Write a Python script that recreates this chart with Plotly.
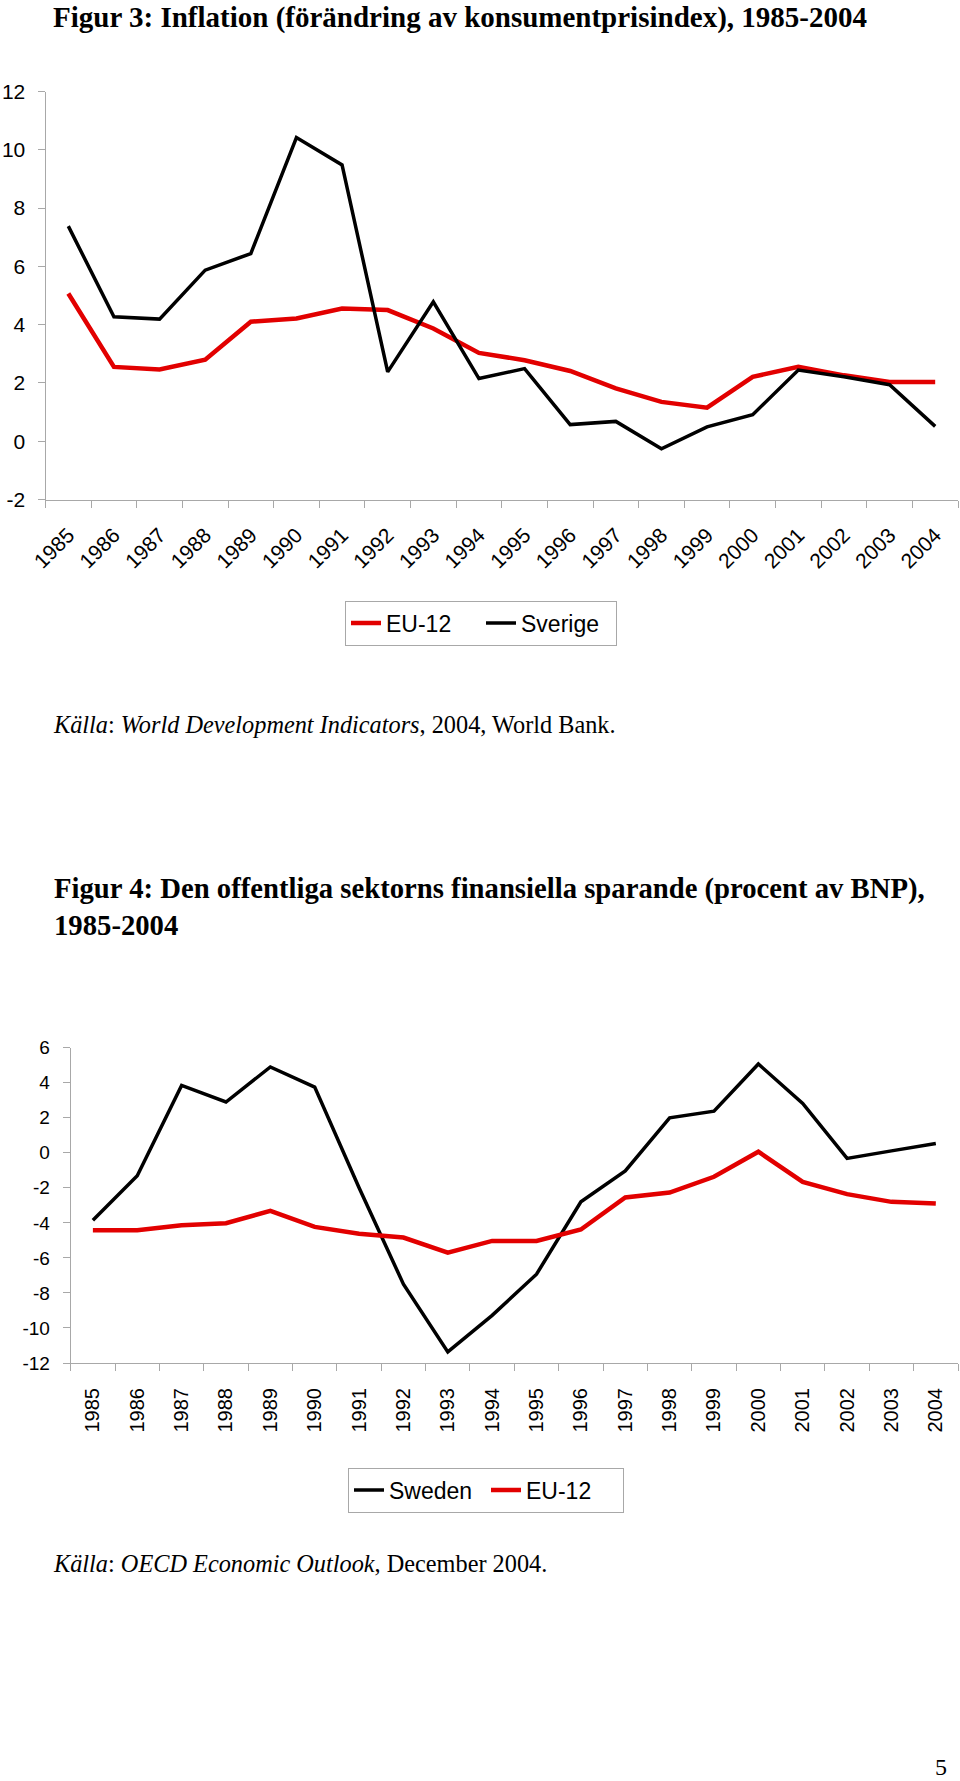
import plotly.graph_objects as go

# ---------------- data ----------------
years = [str(y) for y in range(1985, 2005)]

# Figur 3: inflation (%)
infl_eu12 = [5.07, 2.55, 2.46, 2.80, 4.10, 4.21, 4.55, 4.50, 3.87, 3.03,
             2.78, 2.41, 1.81, 1.35, 1.15, 2.21, 2.55, 2.26, 2.03, 2.03]
infl_sverige = [7.38, 4.27, 4.19, 5.87, 6.44, 10.42, 9.48, 2.38, 4.78, 2.15,
                2.49, 0.57, 0.68, -0.26, 0.49, 0.91, 2.44, 2.21, 1.94, 0.51]

# Figur 4: public sector financial saving (% of GDP)
saving_sweden = [-3.85, -1.31, 3.85, 2.90, 4.90, 3.75, -2.00, -7.50, -11.37, -9.28,
                 -6.93, -2.80, -1.03, 2.00, 2.38, 5.07, 2.82, -0.32, 0.11, 0.53]
saving_eu12 = [-4.42, -4.42, -4.13, -4.02, -3.31, -4.23, -4.62, -4.84, -5.70, -5.03,
               -5.03, -4.38, -2.55, -2.27, -1.37, 0.06, -1.66, -2.36, -2.80, -2.90]

infl_ticks = [-2, 0, 2, 4, 6, 8, 10, 12]
saving_ticks = [-12, -10, -8, -6, -4, -2, 0, 2, 4, 6]

# ---------------- styling ----------------
W, H = 960, 1781
RED = "rgb(226,0,0)"
BLACK = "black"
AXC = "#a8a8a8"
SANS = "Liberation Sans, Arial, sans-serif"
SERIF = "Liberation Serif, Times New Roman, serif"


def fx(p):
    return p / W


def fy(p):
    return 1 - p / H


fig = go.Figure()
fig.add_trace(go.Scatter(x=years, y=infl_eu12, name="EU-12", mode="lines",
                         line=dict(color=RED, width=4.5), xaxis="x", yaxis="y",
                         legend="legend"))
fig.add_trace(go.Scatter(x=years, y=infl_sverige, name="Sverige", mode="lines",
                         line=dict(color=BLACK, width=3.5), xaxis="x", yaxis="y",
                         legend="legend"))
fig.add_trace(go.Scatter(x=years, y=saving_sweden, name="Sweden", mode="lines",
                         line=dict(color=BLACK, width=3.5), xaxis="x2", yaxis="y2",
                         legend="legend2"))
fig.add_trace(go.Scatter(x=years, y=saving_eu12, name="EU-12", mode="lines",
                         line=dict(color=RED, width=4.5), xaxis="x2", yaxis="y2",
                         legend="legend2"))

common_x = dict(type="category", range=[-0.5, 19.5], tickson="boundaries",
                ticks="outside", ticklen=7, tickcolor=AXC, showline=True,
                linecolor=AXC, linewidth=1, showgrid=False, zeroline=False,
                fixedrange=True, automargin=False)
common_y = dict(ticks="outside", ticklen=7, tickcolor=AXC, showline=True,
                linecolor=AXC, linewidth=1, showgrid=False, zeroline=False,
                fixedrange=True, automargin=False)

legend_common = dict(orientation="h", xanchor="center", yanchor="middle",
                     bordercolor=AXC, borderwidth=1, bgcolor="white",
                     font=dict(family=SANS, size=23, color="black"),
                     traceorder="normal", itemwidth=30, entrywidthmode="pixels")

fig.update_layout(
    template="none",
    width=W, height=H, autosize=False,
    margin=dict(l=0, r=0, t=0, b=0, pad=0, autoexpand=False),
    paper_bgcolor="white", plot_bgcolor="white",
    xaxis=dict(common_x, domain=[fx(45.5), fx(958)], anchor="y", tickangle=-45,
               tickfont=dict(family=SANS, size=21, color="black"),
               ticklabelstandoff=14),
    yaxis=dict(common_y, domain=[fy(499.5), fy(91.5)], anchor="x", range=[-2, 12],
               tickvals=infl_ticks, ticktext=[str(v) for v in infl_ticks],
               tickfont=dict(family=SANS, size=21, color="black"),
               ticklabelstandoff=8),
    xaxis2=dict(common_x, domain=[fx(70.7), fx(958)], anchor="y2", tickangle=-90,
                tickfont=dict(family=SANS, size=20, color="black"),
                ticklabelstandoff=16),
    yaxis2=dict(common_y, domain=[fy(1363), fy(1047.7)], anchor="x2", range=[-12, 6],
                tickvals=saving_ticks, ticktext=[str(v) for v in saving_ticks],
                tickfont=dict(family=SANS, size=19, color="black"),
                ticklabelstandoff=9),
    legend=dict(legend_common, x=fx(481), y=fy(623), entrywidth=90),
    legend2=dict(legend_common, x=fx(486), y=fy(1490), entrywidth=92),
    showlegend=True,
)

annotations = [
    dict(text="<b>Figur 3: Inflation (förändring av konsumentprisindex), 1985-2004</b>",
         x=fx(52), y=fy(0), xanchor="left", yanchor="top", borderpad=0,
         font=dict(family=SERIF, size=29, color="black")),
    dict(text="<i>Källa</i>: <i>World Development Indicators</i>, 2004, World Bank.",
         x=fx(51), y=fy(724), xanchor="left", yanchor="middle",
         font=dict(family=SERIF, size=24.3, color="black")),
    dict(text="<b>Figur 4: Den offentliga sektorns finansiella sparande (procent av BNP),<br>1985-2004</b>",
         x=fx(52), y=fy(870), xanchor="left", yanchor="top", align="left",
         font=dict(family=SERIF, size=28.7, color="black")),
    dict(text="<i>Källa</i>: <i>OECD Economic Outlook</i>, December 2004.",
         x=fx(51), y=fy(1563), xanchor="left", yanchor="middle",
         font=dict(family=SERIF, size=24.3, color="black")),
    dict(text="5", x=fx(941), y=fy(1767), xanchor="center", yanchor="middle",
         font=dict(family=SERIF, size=24, color="black")),
]
for a in annotations:
    a.update(xref="paper", yref="paper", showarrow=False)
fig.update_layout(annotations=annotations)

fig.write_html("out.html", config={"displayModeBar": False},
               post_script="document.body.style.margin='0px';document.body.style.padding='0px';")
